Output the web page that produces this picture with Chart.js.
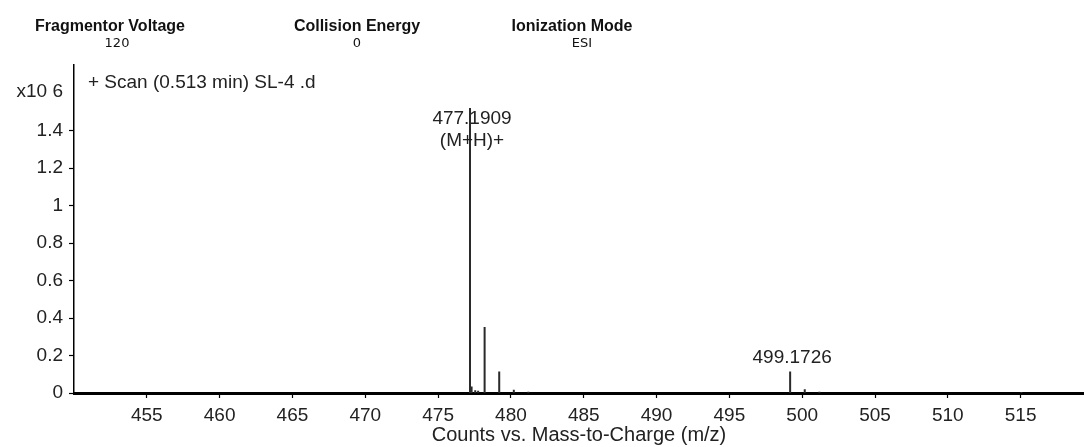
<!DOCTYPE html>
<html>
<head>
<meta charset="utf-8">
<script src="https://cdn.jsdelivr.net/npm/chart.js@4"></script>
<style>
  html, body { margin: 0; padding: 0; background: #fff; }
  #wrap { width: 1084px; height: 447px; position: relative; }
</style>
</head>
<body>
<div id="wrap"><canvas id="spectrum" width="1084" height="447"></canvas></div>
<script>
// Centroided peaks of the scan: m/z and abundance (x10^6 counts)
const peakMz = [477.1909, 477.30, 477.55, 477.75, 478.194, 479.197, 480.20, 481.20, 499.1726, 500.176, 501.18, 515.05];
const peakCounts = [1.52, 0.035, 0.015, 0.012, 0.352, 0.115, 0.018, 0.007, 0.115, 0.020, 0.007, 0.005];

// Annotated peaks
const labelMz = [477.1909, 499.1726];
const labelText = ['477.1909', '499.1726'];
const labelNote = ['(M+H)+', ''];

// Axis ticks
const xTicks = [455, 460, 465, 470, 475, 480, 485, 490, 495, 500, 505, 510, 515];
const yTicks = [0, 0.2, 0.4, 0.6, 0.8, 1.0, 1.2, 1.4];

// Acquisition parameters shown above the plot
const paramNames = ['Fragmentor Voltage', 'Collision Energy', 'Ionization Mode'];
const paramValues = ['120', '0', 'ESI'];

const scanTitle = '+ Scan (0.513 min) SL-4 .d';
const yUnit = 'x10 6';
const xTitle = 'Counts vs. Mass-to-Charge (m/z)';

// Each peak becomes a vertical stick from the baseline, separated by gaps
const stickData = [];
peakMz.forEach((m, i) => {
  stickData.push({ x: m, y: 0 });
  stickData.push({ x: m, y: peakCounts[i] });
  stickData.push({ x: m, y: null });
});

const TEXT = '#222';
const LABEL_FONT = '19px "Liberation Sans", Arial, sans-serif';

const annotations = {
  id: 'annotations',
  afterDraw(chart) {
    const { ctx, chartArea, scales } = chart;
    const xs = scales.x, ys = scales.y;
    ctx.save();

    // parameter header
    const headerX = [110, 357, 572];
    const valueShift = [7, 0, 10];
    paramNames.forEach((name, i) => {
      ctx.fillStyle = '#111';
      ctx.textAlign = 'center';
      ctx.textBaseline = 'alphabetic';
      ctx.font = 'bold 16px "Liberation Sans", Arial, sans-serif';
      ctx.fillText(name, headerX[i], 31);
      ctx.font = '13px "DejaVu Sans", sans-serif';
      ctx.fillText(paramValues[i], headerX[i] + valueShift[i], 47);
    });

    // exponent of the y axis and scan title
    ctx.fillStyle = TEXT;
    ctx.font = LABEL_FONT;
    ctx.textBaseline = 'middle';
    ctx.textAlign = 'right';
    ctx.fillText(yUnit, chartArea.left - 11, 92);
    ctx.textAlign = 'left';
    ctx.fillText(scanTitle, chartArea.left + 14, 83);

    // peak labels
    ctx.textAlign = 'center';
    ctx.textBaseline = 'alphabetic';
    const lineGap = 22;
    const capH = 13.6;
    const minTop = chartArea.top + 45;
    labelMz.forEach((m, i) => {
      const idx = peakMz.indexOf(m);
      const px = xs.getPixelForValue(m);
      const topPx = ys.getPixelForValue(peakCounts[idx]);
      const lines = [labelText[i]];
      if (labelNote[i]) lines.push(labelNote[i]);
      let base = topPx - 8 - (lines.length - 1) * lineGap;
      if (base - capH < minTop) base = minTop + capH;
      lines.forEach((t, k) => ctx.fillText(t, px + 2, base + k * lineGap));
    });
    ctx.restore();
  }
};

new Chart(document.getElementById('spectrum'), {
  type: 'line',
  data: {
    datasets: [{
      data: stickData,
      borderColor: '#2a2a2a',
      borderWidth: 2,
      pointRadius: 0,
      spanGaps: false,
      tension: 0
    }]
  },
  options: {
    responsive: false,
    animation: false,
    devicePixelRatio: 1,
    layout: { padding: { top: 65, left: 0, right: 0, bottom: 0 } },
    plugins: { legend: { display: false }, tooltip: { enabled: false }, title: { display: false } },
    scales: {
      x: {
        type: 'linear',
        min: 450,
        max: 519.35,
        afterBuildTicks: s => { s.ticks = xTicks.map(v => ({ value: v })); },
        afterFit: s => { s.height = 54; },
        grid: { display: true, drawOnChartArea: false, drawTicks: true, tickLength: 5, tickWidth: 1.2, color: '#000' },
        border: { display: true, color: '#000', width: 3 },
        ticks: {
          color: TEXT,
          padding: 6,
          maxRotation: 0,
          autoSkip: false,
          font: { family: '"Liberation Sans", Arial, sans-serif', size: 19 },
          callback: v => String(v)
        },
        title: {
          display: true,
          text: xTitle,
          color: TEXT,
          padding: { top: -8, bottom: 0 },
          font: { family: '"Liberation Sans", Arial, sans-serif', size: 20 }
        }
      },
      y: {
        type: 'linear',
        min: 0,
        max: 1.75,
        afterBuildTicks: s => { s.ticks = yTicks.map(v => ({ value: v })); },
        afterFit: s => { s.width = 74; },
        grid: { display: true, drawOnChartArea: false, drawTicks: true, tickLength: 5, tickWidth: 1.2, color: '#000' },
        border: { display: true, color: '#000', width: 1.5 },
        ticks: {
          color: TEXT,
          padding: 6,
          autoSkip: false,
          font: { family: '"Liberation Sans", Arial, sans-serif', size: 19 },
          callback: v => String(+v.toFixed(1))
        }
      }
    }
  },
  plugins: [annotations]
});
</script>
</body>
</html>
